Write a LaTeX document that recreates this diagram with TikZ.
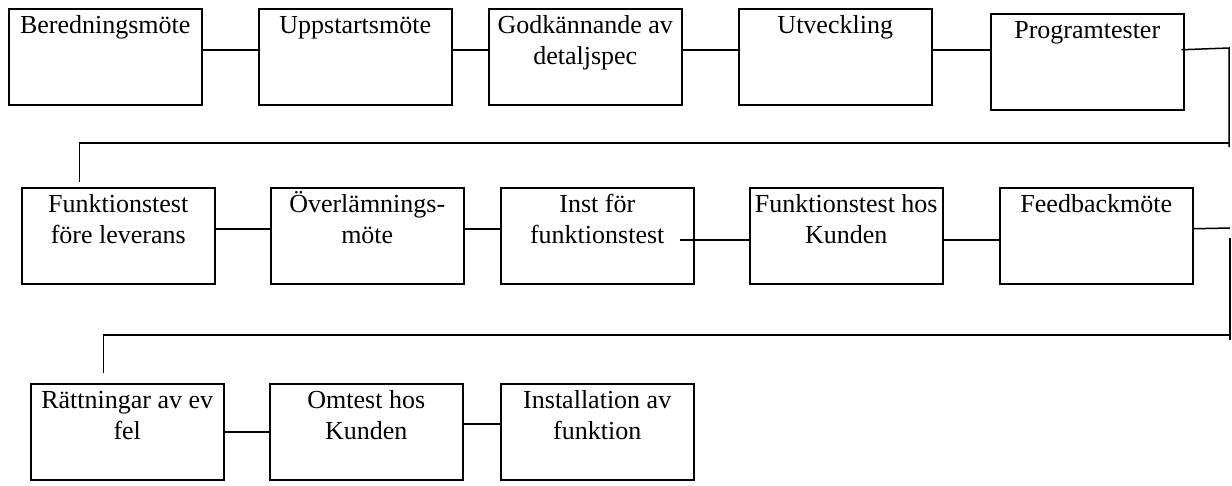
\documentclass[tikz,border=0pt]{standalone}
\usepackage{fontspec}
\setmainfont{Liberation Serif}
\usepackage{tikz}

\newcommand{\phasetext}[1]{\parbox[c][90pt][t]{189pt}{\centering\strut #1}}

\begin{document}
\begin{tikzpicture}[x=1pt,y=-1pt,line width=1.5pt,
                    phase node/.style={rectangle,draw,anchor=north west,inner sep=2pt,
                      minimum width=193pt,minimum height=96pt,
                      font=\fontsize{26}{31}\selectfont}]
  \useasboundingbox (0,0) rectangle (1232,485);

  \node[phase node] (bered) at (8,8) {\phasetext{Beredningsmöte}};
  \node[phase node] (uppstart) at (258,8) {\phasetext{Uppstartsmöte}};
  \node[phase node] (godk) at (488,8) {\phasetext{Godkännande av\\detaljspec}};
  \node[phase node] (utv) at (738,8) {\phasetext{Utveckling}};
  \node[phase node] (prog) at (990,13) {\phasetext{Programtester}};

  \node[phase node] (funkfore) at (21,187) {\phasetext{Funktionstest\\före leverans}};
  \node[phase node] (overl) at (270,187) {\phasetext{Överlämnings-\\möte}};
  \node[phase node] (inst) at (500,187) {\phasetext{Inst för\\funktionstest}};
  \node[phase node] (funkhos) at (749,187) {\phasetext{Funktionstest hos\\Kunden}};
  \node[phase node] (feedback) at (999,187) {\phasetext{Feedbackmöte}};

  \node[phase node] (ratt) at (30,383) {\phasetext{Rättningar av ev\\fel}};
  \node[phase node] (omtest) at (269,383) {\phasetext{Omtest hos\\Kunden}};
  \node[phase node] (install) at (500,383) {\phasetext{Installation av\\funktion}};

  \coordinate (r1) at (1229,48);
  \coordinate (r1end) at (1229,147);
  \coordinate (row1) at (1229,143);
  \coordinate (drop1) at ([xshift=-39pt,yshift=5pt]funkfore.north);
  \coordinate (r2) at (1230,228);
  \coordinate (r2top) at (1230,238);
  \coordinate (r2end) at (1230,340);
  \coordinate (row2) at (1230,335);
  \coordinate (drop2) at ([xshift=-24pt,yshift=10pt]ratt.north);

  \draw ([yshift=7pt]bered.east) -- ([yshift=7pt]uppstart.west);
  \draw ([yshift=7pt]uppstart.east) -- ([yshift=7pt]godk.west);
  \draw ([yshift=7pt]godk.east) -- ([yshift=7pt]utv.west);
  \draw ([yshift=7pt]utv.east) -- ([yshift=12pt]prog.west);
  \draw ([xshift=-3pt,yshift=12pt]prog.east) -- (r1) -- (r1end);
  \draw (row1) -| (drop1);

  \draw ([yshift=7pt]funkfore.east) -- ([yshift=7pt]overl.west);
  \draw ([yshift=7pt]overl.east) -- ([yshift=7pt]inst.west);
  \draw ([xshift=-15pt,yshift=-4pt]inst.east) -- ([yshift=-4pt]funkhos.west);
  \draw ([yshift=-4pt]funkhos.east) -- ([yshift=-4pt]feedback.west);
  \draw ([yshift=7pt]feedback.east) -- (r2);
  \draw (r2top) -- (r2end);
  \draw (row2) -| (drop2);

  \draw (ratt.east) -- (omtest.west);
  \draw ([yshift=8pt]omtest.east) -- ([yshift=8pt]install.west);
\end{tikzpicture}
\end{document}
